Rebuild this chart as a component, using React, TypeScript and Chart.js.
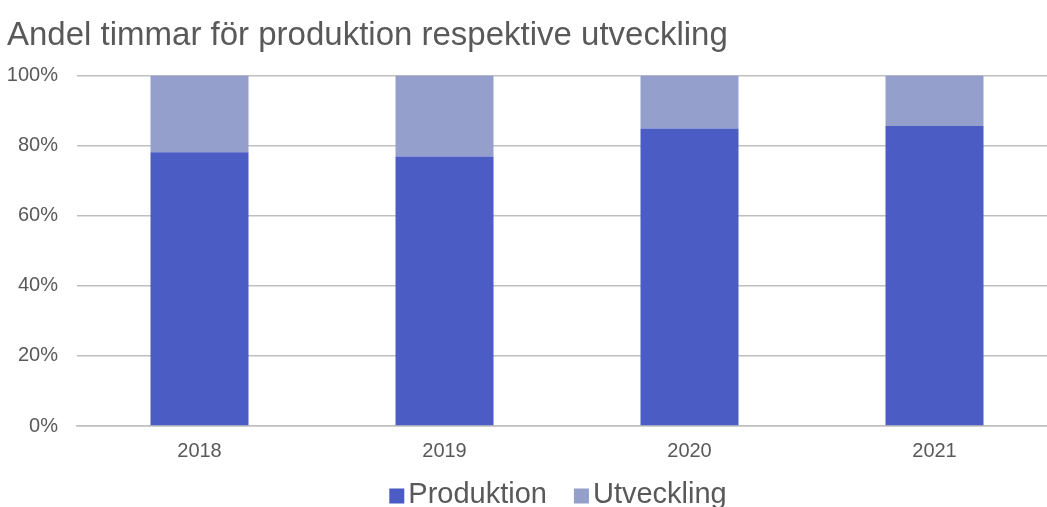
import React, { useEffect, useRef } from "react";
import { Chart, registerables } from "chart.js";

Chart.register(...registerables);

const TITLE = "Andel timmar för produktion respektive utveckling";
const years = ["2018", "2019", "2020", "2021"];
const produktion = [78.1, 76.9, 84.9, 85.6];
const utveckling = [21.9, 23.1, 15.1, 14.4];
const yTicks = [0, 20, 40, 60, 80, 100];
const seriesNames = ["Produktion", "Utveckling"];
const seriesColors = ["#4B5DC4", "#959FCB"];

const TEXT = "#595959";
const FONT = "'Liberation Sans', Arial, sans-serif";

const legendPlugin = {
  id: "bottomLegend",
  afterDraw(chart: any) {
    const ctx = chart.ctx;
    const area = chart.chartArea;
    ctx.save();
    ctx.font = `29px ${FONT}`;
    ctx.textBaseline = "middle";
    ctx.textAlign = "left";
    const box = 15;
    const gapText = 4;
    const gapItems = 27;
    const items = chart.data.datasets.map((ds: any) => ({
      text: ds.label as string,
      color: ds.backgroundColor as string,
      w: ctx.measureText(ds.label).width,
    }));
    const total =
      items.reduce((s: number, it: any) => s + box + gapText + it.w, 0) +
      gapItems * (items.length - 1);
    const cx = (area.left + area.right) / 2 - 9;
    const cy = area.bottom + 68;
    let x = cx - total / 2;
    for (const it of items) {
      ctx.fillStyle = it.color;
      ctx.fillRect(x, cy - box / 2 + 2, box, box);
      x += box + gapText;
      ctx.fillStyle = TEXT;
      ctx.fillText(it.text, x, cy + 1);
      x += it.w + gapItems;
    }
    ctx.restore();
  },
};

export default function App() {
  const ref = useRef<HTMLCanvasElement | null>(null);

  useEffect(() => {
    if (!ref.current) return;
    const chart = new Chart(ref.current, {
      type: "bar",
      data: {
        labels: years,
        datasets: [
          {
            label: seriesNames[0],
            data: produktion,
            backgroundColor: seriesColors[0],
            barPercentage: 0.4,
            categoryPercentage: 1,
          },
          {
            label: seriesNames[1],
            data: utveckling,
            backgroundColor: seriesColors[1],
            barPercentage: 0.4,
            categoryPercentage: 1,
          },
        ],
      },
      plugins: [legendPlugin],
      options: {
        responsive: false,
        animation: false,
        layout: { padding: { left: 7, right: 0, top: 0, bottom: 37 } },
        plugins: {
          tooltip: { enabled: false },
          legend: { display: false },
          title: {
            display: true,
            text: TITLE,
            align: "start",
            color: TEXT,
            font: { family: FONT, size: 33, weight: "normal" },
            padding: { top: 16, bottom: 20 },
          },
        },
        scales: {
          x: {
            stacked: true,
            grid: { display: false },
            border: { display: true, color: "#bfbfbf", width: 1.5 },
            ticks: {
              color: TEXT,
              font: { family: FONT, size: 20 },
              padding: 5,
            },
            afterFit: (axis: any) => {
              axis.height = 44;
            },
          },
          y: {
            stacked: true,
            min: 0,
            max: 100,
            afterBuildTicks: (axis: any) => {
              axis.ticks = yTicks.map((v) => ({ value: v }));
            },
            afterFit: (axis: any) => {
              axis.width = 70;
            },
            grid: { color: "#bfbfbf", lineWidth: 1.5, drawTicks: false },
            border: { display: false },
            ticks: {
              color: TEXT,
              font: { family: FONT, size: 20 },
              padding: 19,
              callback: (v: any) => v + "%",
            },
          },
        },
      },
    });
    return () => chart.destroy();
  }, []);

  return (
    <div
      style={{
        position: "fixed",
        left: 0,
        top: 0,
        width: 1047,
        height: 507,
        overflow: "hidden",
        background: "#fff",
      }}
    >
      <canvas ref={ref} width={1057} height={507} style={{ display: "block" }} />
    </div>
  );
}
